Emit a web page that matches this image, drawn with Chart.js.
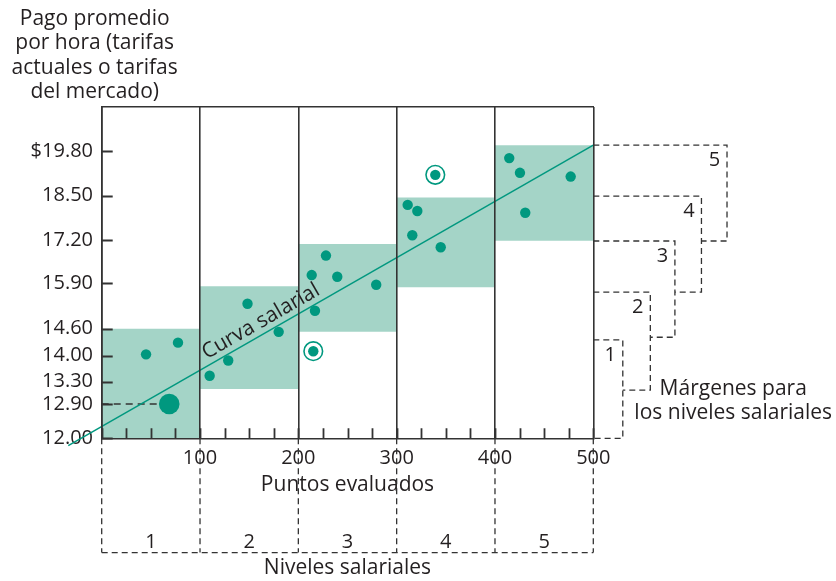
<!DOCTYPE html>
<html>
<head>
<meta charset="utf-8">
<script src="https://cdn.jsdelivr.net/npm/chart.js@4.4.1/dist/chart.umd.min.js"></script>
<style>
  html, body { margin: 0; background: #fff; }
</style>
</head>
<body>
<canvas id="chart" width="836" height="581"></canvas>
<script>
const FONT = '"Open Sans", "Noto Sans", sans-serif';
const INK = '#231f20', RULE = '#333333', TEAL = '#00987f', BOX = '#a4d4c7';

/* ---- valores ---- */
const yTicks = [12.00, 12.90, 13.30, 14.00, 14.60, 15.90, 17.20, 18.50, 19.80];
// the printed axis is not evenly spaced: value -> share of the axis height
const yAxisStops = [[12.00, 0], [12.90, 0.1035], [13.30, 0.1708], [14.00, 0.2493], [14.60, 0.3308],
                    [15.90, 0.4688], [17.20, 0.5985], [18.50, 0.7323], [19.80, 0.8663], [21.10, 1]];

const levels    = ['1', '2', '3', '4', '5'];
const levelFrom = [0, 100, 200, 300, 400];
const levelTo   = [100, 200, 300, 400, 500];
const boxLow    = [12.00, 13.17, 14.53, 15.78, 17.18];
const boxHigh   = [14.60, 15.81, 17.08, 18.45, 19.98];

const dotX = [45.1, 77.6, 109.8, 128.7, 148.3, 180.0, 213.6, 239.6, 216.9, 228.1, 279.2,
              311.2, 321.0, 315.9, 344.8, 414.5, 425.4, 477.0, 430.8];
const dotY = [14.03, 14.29, 13.46, 13.87, 15.31, 14.53, 16.14, 16.09, 15.11, 16.73, 15.85,
              18.23, 18.05, 17.34, 16.98, 19.60, 19.17, 19.06, 18.00];
const ringX = [215.2, 339.3];
const ringY = [14.10, 19.11];
const markX = [68.7];
const markY = [12.90];

const curveX = [-34, 500];
const curveY = [11.81, 19.98];
const curveLabel = 'Curva salarial';
const curveLabelAt = 168;

// dashed brackets on the right (margenes)
const bandTop    = [14.35, 15.64, 17.17, 18.49, 19.98];
const bandBottom = [12.00, 13.15, 14.41, 15.64, 17.17];
const bandEdge   = [530, 558, 583, 610, 636];
const levelFloor = 9.0;

const yTitle = ['Pago promedio', 'por hora (tarifas', 'actuales o tarifas', 'del mercado)'];
const noteLines = ['Márgenes para', 'los niveles salariales'];
const noteX = 642.3, noteY = 13.07;

/* ---- eje y por tramos ---- */
class StopScale extends Chart.LinearScale {
  static id = 'stops';
  static defaults = {};
  getPixelForValue(value) {
    if (value === null || isNaN(value)) return NaN;
    const s = yAxisStops;
    let i = 1;
    while (i < s.length - 1 && value > s[i][0]) i++;
    const [v0, f0] = s[i - 1], [v1, f1] = s[i];
    return this.getPixelForDecimal(f0 + (value - v0) * (f1 - f0) / (v1 - v0));
  }
  getValueForPixel(pixel) {
    const f = this.getDecimalForPixel(pixel), s = yAxisStops;
    let i = 1;
    while (i < s.length - 1 && f > s[i][1]) i++;
    const [v0, f0] = s[i - 1], [v1, f1] = s[i];
    return v0 + (f - f0) * (v1 - v0) / (f1 - f0);
  }
}
Chart.register(StopScale);

/* ---- datasets ---- */
const pts = (xs, ys) => xs.map((x, i) => ({x, y: ys[i]}));
const datasets = [];

levels.forEach((_, i) => datasets.push({
  type: 'line', data: [{x: levelFrom[i], y: boxHigh[i]}, {x: levelTo[i], y: boxHigh[i]}],
  fill: {value: boxLow[i]}, backgroundColor: BOX, borderColor: 'rgba(0,0,0,0)',
  borderWidth: 0, pointRadius: 0, order: 10
}));

const dashed = {type: 'line', borderColor: RULE, borderWidth: 1.3, borderDash: [6, 4],
                pointRadius: 0, fill: false, clip: false, order: 6};

bandEdge.forEach((edge, i) => datasets.push({...dashed, data: [
  {x: 500, y: bandTop[i]}, {x: edge, y: bandTop[i]}, {x: edge, y: bandBottom[i]},
  {x: i ? bandEdge[i - 1] : 500, y: bandBottom[i]}
]}));

[...levelFrom, levelTo[levelTo.length - 1]].forEach(b => datasets.push({...dashed,
  data: [{x: b, y: yTicks[0]}, {x: b, y: levelFloor}]}));
datasets.push({...dashed, data: [{x: levelFrom[0], y: levelFloor}, {x: levelTo[levelTo.length - 1], y: levelFloor}]});

datasets.push({...dashed, borderWidth: 1.5, borderDash: [7, 5],
  data: [{x: 0, y: markY[0]}, {x: markX[0], y: markY[0]}]});

const curveIdx = datasets.length;
datasets.push({type: 'line', data: pts(curveX, curveY), borderColor: TEAL, borderWidth: 1.5,
  pointRadius: 0, fill: false, clip: false, order: 4});

datasets.push({type: 'scatter', data: pts(ringX, ringY), pointRadius: 9.3, backgroundColor: '#fff',
  borderColor: TEAL, borderWidth: 1.6, order: 3});
datasets.push({type: 'scatter', data: pts(dotX, dotY).concat(pts(ringX, ringY)), pointRadius: 5.2,
  backgroundColor: TEAL, borderWidth: 0, order: 2});
datasets.push({type: 'scatter', data: pts(markX, markY), pointRadius: 10.3,
  backgroundColor: TEAL, borderWidth: 0, order: 1});

/* ---- marcas interiores de los ejes y textos ---- */
const annotate = {
  id: 'annotate',
  afterDraw(chart) {
    const {ctx, chartArea: a, scales: {x, y}} = chart;
    ctx.save();
    ctx.setLineDash([]);
    ctx.strokeStyle = RULE;
    ctx.lineWidth = 1.8;
    ctx.beginPath();
    x.ticks.forEach(t => {
      const px = Math.round(x.getPixelForValue(t.value)) + 0.5;
      ctx.moveTo(px, a.bottom); ctx.lineTo(px, a.bottom - 10);
    });
    y.ticks.forEach(t => {
      const py = Math.round(y.getPixelForValue(t.value)) + 0.5;
      ctx.moveTo(a.left, py); ctx.lineTo(a.left + 11, py);
    });
    ctx.stroke();

    ctx.fillStyle = INK;
    ctx.textAlign = 'center';
    ctx.font = '21px ' + FONT;
    ctx.textBaseline = 'alphabetic';
    yTitle.forEach((t, i) => ctx.fillText(t, a.left - 7, a.top - 82 + i * 24.4));
    noteLines.forEach((t, i) => ctx.fillText(t, x.getPixelForValue(noteX), y.getPixelForValue(noteY) + i * 24));

    const m = chart.getDatasetMeta(curveIdx).data;
    const ang = Math.atan2(m[1].y - m[0].y, m[1].x - m[0].x);
    const px = x.getPixelForValue(curveLabelAt);
    const py = m[0].y + (px - m[0].x) * Math.tan(ang);
    ctx.save();
    ctx.translate(px, py);
    ctx.rotate(ang);
    ctx.fillText(curveLabel, 0, -6);
    ctx.restore();

    ctx.font = '20px ' + FONT;
    ctx.textBaseline = 'middle';
    levels.forEach((t, i) => {
      ctx.fillText(t, x.getPixelForValue((levelFrom[i] + levelTo[i]) / 2), y.getPixelForValue(levelFloor) - 10);
      ctx.fillText(t, x.getPixelForValue(bandEdge[i]) - 12.5, y.getPixelForValue(bandTop[i]) + 15.5);
    });
    ctx.restore();
  }
};

Chart.defaults.font.family = FONT;
Chart.defaults.color = INK;

new Chart(document.getElementById('chart'), {
  type: 'scatter',
  data: {datasets},
  plugins: [annotate],
  options: {
    responsive: false,
    animation: false,
    events: [],
    layout: {padding: {top: 107, right: 242.7, bottom: 0, left: 0}},
    scales: {
      x: {
        type: 'linear', min: 0, max: 500,
        ticks: {stepSize: 25, autoSkip: false, maxRotation: 0, padding: 7.7, color: INK,
                font: {size: 20}, callback: v => (v % 100 === 0 && v > 0) ? String(v) : ''},
        grid: {z: 1, color: c => (c.tick && c.tick.value % 100 === 0) ? RULE : 'rgba(0,0,0,0)',
               lineWidth: 1.6, drawTicks: false},
        border: {z: 1, display: true, color: RULE, width: 1.6},
        afterFit: s => { s.height = 34.3; }
      },
      xTop: {
        type: 'linear', position: 'top', min: 0, max: 500,
        ticks: {display: false}, grid: {display: false},
        border: {z: 1, display: true, color: RULE, width: 1.6},
        afterFit: s => { s.height = 0; }
      },
      y: {
        type: 'stops', min: 12, max: 21.1,
        afterBuildTicks: s => { s.ticks = yTicks.map(v => ({value: v})); },
        ticks: {autoSkip: false, padding: 8.7, color: INK, font: {size: 20},
                callback: v => (v === 19.8 ? '$' : '') + v.toFixed(2)},
        grid: {z: 1, drawOnChartArea: false, drawTicks: false},
        border: {z: 1, display: true, color: RULE, width: 1.6},
        afterFit: s => { s.width = 101.7; }
      }
    },
    plugins: {
      legend: {display: false},
      tooltip: {enabled: false},
      title: {display: true, position: 'bottom', fullSize: false, text: 'Niveles salariales',
              color: INK, font: {size: 21, weight: 'normal'}, padding: {top: 0, bottom: 0}},
      subtitle: {display: true, position: 'bottom', fullSize: false, text: 'Puntos evaluados',
                 color: INK, font: {size: 21, weight: 'normal'}, padding: {top: 0, bottom: 58}}
    }
  }
});
</script>
</body>
</html>
